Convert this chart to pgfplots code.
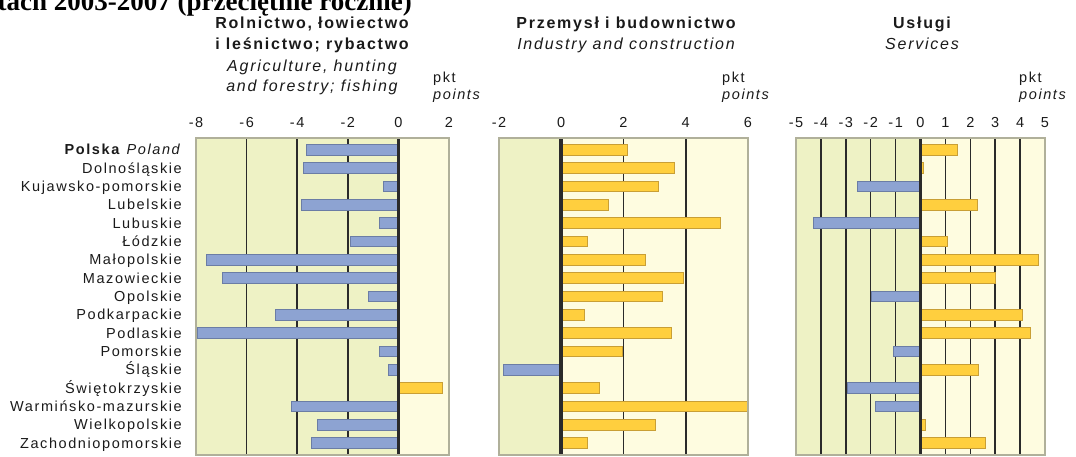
\documentclass[border=0pt]{standalone}
\usepackage{pgfplots}
\pgfplotsset{compat=1.18}
\usepackage{pgfplotstable}
\usepackage{fontspec}
\setmainfont{Liberation Sans}[LetterSpace=11]
\newfontfamily\titlefont{Liberation Serif}

\definecolor{negbg}{HTML}{EEF2C5}
\definecolor{posbg}{HTML}{FEFCE0}
\definecolor{framec}{HTML}{B0B09A}
\definecolor{bluebar}{HTML}{8DA3D2}
\definecolor{blueedge}{HTML}{6B7DA5}
\definecolor{yelbar}{HTML}{FFCF3E}
\definecolor{yeledge}{HTML}{C99F35}
\definecolor{txt}{HTML}{1A1A1A}
\definecolor{gridc}{HTML}{2A2A2A}

% row: 0 Polska ... 16 Zachodniopomorskie
\pgfplotstableread{
row agri ind serv
0  -3.65 2.13  1.49
1  -3.76 3.63  0.12
2  -0.59 3.12 -2.54
3  -3.83 1.53  2.30
4  -0.76 5.11 -4.31
5  -1.88 0.83  1.09
6  -7.59 2.72  4.72
7  -6.95 3.93  3.01
8  -1.19 3.24 -1.96
9  -4.85 0.74  4.09
10 -7.96 3.53  4.41
11 -0.76 1.96 -1.09
12 -0.39 -1.86 2.33
13  1.75 1.24 -2.92
14 -4.23 6.00 -1.80
15 -3.21 3.04  0.19
16 -3.43 0.83  2.61
}\data

\pgfplotsset{
  panel/.style={
    scale only axis, height=317pt, ymin=-0.65, ymax=16.65, y dir=reverse,
    ytick=\empty, axis on top,
    axis line style={draw=framec, line width=1.6pt},
    xticklabel pos=upper, major tick length=0pt,
    xticklabel style={font=\fontsize{14.5}{16}\selectfont, text=txt, anchor=base, inner sep=0pt, yshift=10pt},
    anchor=north west,
  },
  negbar/.style={xbar, bar width=0.58, bar shift=0pt, fill=bluebar, draw=blueedge, line width=0.9pt, restrict x to domain=-100:0},
  posbar/.style={xbar, bar width=0.58, bar shift=0pt, fill=yelbar, draw=yeledge, line width=0.9pt, restrict x to domain=0:100},
}
\tikzset{
  gridl/.style={gridc, line width=1.5pt},
  zerol/.style={gridc, line width=3.8pt},
}

\begin{document}
\begin{tikzpicture}[x=1pt,y=1pt]
\useasboundingbox (0,0) rectangle (1076,457);
\begin{scope}
\clip (0,0) rectangle (1076,457);
\node[anchor=base east, inner sep=0pt, font=\titlefont\bfseries\fontsize{27}{30}\selectfont] at (412,446) {w latach 2003-2007 (przeciętnie rocznie)};
\end{scope}

% Panel 1
\begin{axis}[panel, at={(196pt,319pt)}, width=253pt, xmin=-8, xmax=2,
  xtick={-8,-6,-4,-2,0,2}, xticklabels={-8,-6,-4,-2,0,2},
  ytick={0,1,...,16},
  yticklabels={{\textbf{Polska} \textit{Poland}},Dolnośląskie,Kujawsko-pomorskie,Lubelskie,Lubuskie,Łódzkie,Małopolskie,Mazowieckie,Opolskie,Podkarpackie,Podlaskie,Pomorskie,Śląskie,Świętokrzyskie,Warmińsko-mazurskie,Wielkopolskie,Zachodniopomorskie},
  yticklabel style={font=\fontsize{14.5}{16}\selectfont, text=txt, anchor=base east, inner sep=0pt, xshift=-14pt, yshift=-5pt},
]
\fill[negbg] (axis cs:-8,-0.65) rectangle (axis cs:0,16.65);
\fill[posbg] (axis cs:0,-0.65) rectangle (axis cs:2,16.65);
\draw[gridl] (axis cs:-6,-0.65) -- (axis cs:-6,16.65);
\draw[gridl] (axis cs:-4,-0.65) -- (axis cs:-4,16.65);
\draw[gridl] (axis cs:-2,-0.65) -- (axis cs:-2,16.65);
\addplot[negbar] table[x=agri, y=row] {\data};
\addplot[posbar] table[x=agri, y=row] {\data};
\draw[zerol] (axis cs:0,-0.65) -- (axis cs:0,16.65);
\end{axis}

% Panel 2
\begin{axis}[panel, at={(499pt,319pt)}, width=249pt, xmin=-2, xmax=6,
  xtick={-2,0,2,4,6}, xticklabels={-2,0,2,4,6}]
\fill[negbg] (axis cs:-2,-0.65) rectangle (axis cs:0,16.65);
\fill[posbg] (axis cs:0,-0.65) rectangle (axis cs:6,16.65);
\draw[gridl] (axis cs:2,-0.65) -- (axis cs:2,16.65);
\draw[gridl] (axis cs:4,-0.65) -- (axis cs:4,16.65);
\addplot[negbar] table[x=ind, y=row] {\data};
\addplot[posbar] table[x=ind, y=row] {\data};
\draw[zerol] (axis cs:0,-0.65) -- (axis cs:0,16.65);
\end{axis}

% Panel 3
\begin{axis}[panel, at={(796pt,319pt)}, width=249pt, xmin=-5, xmax=5,
  xtick={-5,-4,-3,-2,-1,0,1,2,3,4,5}, xticklabels={-5,-4,-3,-2,-1,0,1,2,3,4,5}]
\fill[negbg] (axis cs:-5,-0.65) rectangle (axis cs:0,16.65);
\fill[posbg] (axis cs:0,-0.65) rectangle (axis cs:5,16.65);
\draw[gridl] (axis cs:-4,-0.65) -- (axis cs:-4,16.65);
\draw[gridl] (axis cs:-3,-0.65) -- (axis cs:-3,16.65);
\draw[gridl] (axis cs:-2,-0.65) -- (axis cs:-2,16.65);
\draw[gridl] (axis cs:-1,-0.65) -- (axis cs:-1,16.65);
\draw[gridl] (axis cs:1,-0.65) -- (axis cs:1,16.65);
\draw[gridl] (axis cs:2,-0.65) -- (axis cs:2,16.65);
\draw[gridl] (axis cs:3,-0.65) -- (axis cs:3,16.65);
\draw[gridl] (axis cs:4,-0.65) -- (axis cs:4,16.65);
\addplot[negbar] table[x=serv, y=row] {\data};
\addplot[posbar] table[x=serv, y=row] {\data};
\draw[zerol] (axis cs:0,-0.65) -- (axis cs:0,16.65);
\end{axis}

% Titles
\begin{scope}[every node/.style={inner sep=0pt, text=txt}]
\node[anchor=base, font=\fontsize{16}{18}\selectfont\bfseries] at (312,428) {Rolnictwo, łowiectwo};
\node[anchor=base, font=\fontsize{16}{18}\selectfont\bfseries] at (312,407) {i leśnictwo; rybactwo};
\node[anchor=base, font=\fontsize{16}{18}\selectfont\itshape] at (312,385.5) {Agriculture, hunting};
\node[anchor=base, font=\fontsize{16}{18}\selectfont\itshape] at (312,365.5) {and forestry; fishing};
\node[anchor=base west, font=\fontsize{14.5}{16}\selectfont] at (433,374) {pkt};
\node[anchor=base west, font=\fontsize{14.5}{16}\selectfont\itshape] at (433,357) {points};

\node[anchor=base, font=\fontsize{16}{18}\selectfont\bfseries] at (626,428) {Przemysł i budownictwo};
\node[anchor=base, font=\fontsize{16}{18}\selectfont\itshape] at (626,407) {Industry and construction};
\node[anchor=base west, font=\fontsize{14.5}{16}\selectfont] at (722,374) {pkt};
\node[anchor=base west, font=\fontsize{14.5}{16}\selectfont\itshape] at (722,357) {points};

\node[anchor=base, font=\fontsize{16}{18}\selectfont\bfseries] at (922,428) {Usługi};
\node[anchor=base, font=\fontsize{16}{18}\selectfont\itshape] at (922,407) {Services};
\node[anchor=base west, font=\fontsize{14.5}{16}\selectfont] at (1019,374) {pkt};
\node[anchor=base west, font=\fontsize{14.5}{16}\selectfont\itshape] at (1019,357) {points};
\end{scope}
\end{tikzpicture}
\end{document}
